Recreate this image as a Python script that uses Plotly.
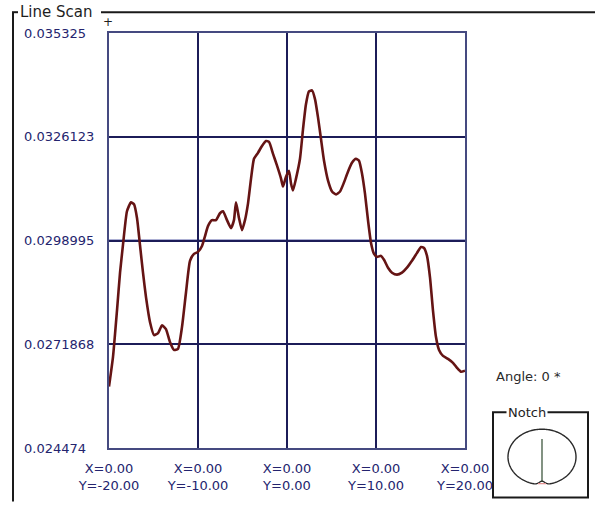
import numpy as np
import plotly.graph_objects as go

# Scan position along the line (Y coordinate, X fixed at 0.00)
scan_pos = [-20.00, -19.55, -19.10, -18.76, -18.43, -17.98, -17.53, -17.19, -16.85, -16.52,
            -16.18, -15.84, -15.39, -14.94, -14.49, -14.04, -13.60, -13.15, -12.70, -12.25,
            -11.80, -11.35, -10.90, -10.45, -10.00, -9.55, -9.21, -8.88, -8.43, -7.98,
            -7.53, -7.19, -6.74, -6.29, -5.96, -5.73, -5.39, -5.06, -4.72, -4.38,
            -4.04, -3.71, -3.26, -2.81, -2.36, -2.02, -1.57, -1.12, -0.67, -0.45,
            -0.11, 0.22, 0.45, 0.67, 1.01, 1.46, 1.80, 2.13, 2.47, 2.81,
            3.15, 3.48, 3.82, 4.16, 4.61, 5.06, 5.51, 5.96, 6.40, 6.85,
            7.30, 7.75, 8.09, 8.43, 8.76, 9.10, 9.44, 9.78, 10.11, 10.56,
            10.90, 11.35, 11.80, 12.36, 12.92, 13.48, 14.04, 14.61, 15.06, 15.39,
            15.73, 16.07, 16.40, 16.74, 17.08, 17.53, 18.09, 18.65, 19.10, 19.55, 20.00]

# Measured value at each scan position
scan_val = [0.026080, 0.026857, 0.028074, 0.029058, 0.029783, 0.030664, 0.030897, 0.030845, 0.030482, 0.029783,
            0.029058, 0.028411, 0.027763, 0.027426, 0.027478, 0.027685, 0.027582, 0.027245, 0.027038, 0.027064,
            0.027634, 0.028540, 0.029369, 0.029550, 0.029602, 0.029757, 0.030016, 0.030275, 0.030431, 0.030431,
            0.030612, 0.030664, 0.030431, 0.030223, 0.030431, 0.030897, 0.030482, 0.030172, 0.030431, 0.030871,
            0.031518, 0.032036, 0.032192, 0.032373, 0.032502, 0.032477, 0.032166, 0.031855, 0.031518, 0.031311,
            0.031570, 0.031725, 0.031389, 0.031207, 0.031518, 0.032036, 0.032813, 0.033461, 0.033797, 0.033823,
            0.033590, 0.033124, 0.032554, 0.031984, 0.031466, 0.031182, 0.031104, 0.031182, 0.031415, 0.031700,
            0.031933, 0.032036, 0.031984, 0.031648, 0.031130, 0.030431, 0.029835, 0.029550, 0.029472, 0.029498,
            0.029395, 0.029188, 0.029058, 0.029006, 0.029058, 0.029188, 0.029369, 0.029576, 0.029731, 0.029705,
            0.029498, 0.028929, 0.028074, 0.027374, 0.027038, 0.026883, 0.026805, 0.026701, 0.026572, 0.026468, 0.026494]

x_ticks = [-20.0, -10.0, 0.0, 10.0, 20.0]
x_tick_text = [f"X=0.00<br>Y={v:.2f}" for v in x_ticks]
y_ticks = [0.024474, 0.0271868, 0.0298995, 0.0326123, 0.035325]
y_tick_text = ["0.024474", "0.0271868", "0.0298995", "0.0326123", "0.035325"]
angle_text = "Angle: 0 *"

FIG_W, FIG_H = 595, 505
L, T, W, H = 109, 33, 356, 419  # plot area in pixels


def hx(px):
    return (px - L) / W


def vy(py):
    return (T + H - py) / H


FONT = "DejaVu Sans"
NAVY = "#24246e"
GRID = "#1c1c58"
GRID_MID = "#5a60a8"
FRAME = "#1a1a1a"

fig = go.Figure(go.Scatter(
    x=scan_pos, y=scan_val, mode="lines",
    line=dict(color="#651414", width=2.6, shape="spline", smoothing=0.5),
    hoverinfo="skip", showlegend=False,
))

fig.update_xaxes(
    range=[x_ticks[0], x_ticks[-1]], tickvals=x_ticks, ticktext=x_tick_text,
    ticks="", showgrid=True, gridcolor=GRID, gridwidth=1.5, zeroline=False,
    showline=True, mirror=True, linecolor="#454a80", linewidth=2,
    tickfont=dict(family=FONT, size=13, color=NAVY), ticklabelstandoff=7,
)
fig.update_yaxes(
    range=[y_ticks[0], y_ticks[-1]], tickvals=y_ticks, showticklabels=False,
    ticks="", showgrid=True, gridcolor=GRID, gridwidth=1.5, zeroline=False,
    showline=True, mirror=True, linecolor="#454a80", linewidth=2,
)

shapes = []
# centre grid lines in a lighter blue
shapes.append(dict(type="line", xref="x", yref="paper", x0=x_ticks[2], x1=x_ticks[2], y0=0, y1=1,
                   line=dict(color=GRID_MID, width=1.8), layer="between"))
shapes.append(dict(type="line", xref="paper", yref="y", x0=0, x1=1, y0=y_ticks[2], y1=y_ticks[2],
                   line=dict(color=GRID_MID, width=1.8), layer="between"))

# "Line Scan" group frame
shapes.append(dict(type="line", xref="paper", yref="paper", x0=hx(13), x1=hx(13), y0=vy(12), y1=vy(506),
                   line=dict(color=FRAME, width=2)))
shapes.append(dict(type="line", xref="paper", yref="paper", x0=hx(12), x1=hx(18), y0=vy(12), y1=vy(12),
                   line=dict(color=FRAME, width=2)))
shapes.append(dict(type="line", xref="paper", yref="paper", x0=hx(101), x1=hx(596), y0=vy(12), y1=vy(12),
                   line=dict(color=FRAME, width=2)))

# Notch box
shapes.append(dict(type="rect", xref="paper", yref="paper", x0=hx(493), x1=hx(588), y0=vy(416), y1=vy(502),
                   line=dict(color=FRAME, width=2), fillcolor="white", layer="above"))

# wafer outline with notch at the bottom
cx, cy, rx, ry = 542, 461, 34, 28
theta = np.linspace(0, 2 * np.pi, 181)
dent = 1 - 0.13 * np.exp(-((theta - np.pi / 2) / 0.12) ** 2)
ox = cx + rx * np.cos(theta) * dent
oy = cy + ry * np.sin(theta) * dent
path = "M " + " L ".join(f"{hx(a):.5f},{vy(b):.5f}" for a, b in zip(ox, oy)) + " Z"
shapes.append(dict(type="path", xref="paper", yref="paper", path=path,
                   line=dict(color="#2a2a2a", width=1.4), layer="above"))
shapes.append(dict(type="line", xref="paper", yref="paper", x0=hx(542), x1=hx(542), y0=vy(443), y1=vy(486),
                   line=dict(color="#2f4a2f", width=1.2), layer="above"))
shapes.append(dict(type="line", xref="paper", yref="paper", x0=hx(538), x1=hx(546), y0=vy(488), y1=vy(488),
                   line=dict(color="#e59090", width=1.2), layer="above"))

annotations = []
for v, t in zip(y_ticks, y_tick_text):
    annotations.append(dict(xref="paper", yref="y", x=hx(22), y=v, text=t, showarrow=False,
                            xanchor="left", yanchor="middle",
                            font=dict(family=FONT, size=13, color=NAVY)))
annotations.append(dict(xref="paper", yref="paper", x=hx(18), y=vy(12), text="Line Scan", showarrow=False,
                        xanchor="left", yanchor="middle", font=dict(family=FONT, size=15, color="#1e1e1e")))
annotations.append(dict(xref="paper", yref="paper", x=hx(108), y=vy(22), text="+", showarrow=False,
                        xanchor="center", yanchor="middle", font=dict(family=FONT, size=12, color="#1e1e1e")))
annotations.append(dict(xref="paper", yref="paper", x=hx(494), y=vy(380), text=angle_text, showarrow=False,
                        xanchor="left", yanchor="middle", font=dict(family=FONT, size=13, color="#2a2a2a")))
annotations.append(dict(xref="paper", yref="paper", x=hx(506), y=vy(416), text="Notch", showarrow=False,
                        xanchor="left", yanchor="middle", bgcolor="white", borderpad=1,
                        font=dict(family=FONT, size=13, color="#1e1e1e")))

fig.update_layout(
    width=FIG_W, height=FIG_H, autosize=False,
    margin=dict(l=L, r=FIG_W - L - W, t=T, b=FIG_H - T - H),
    paper_bgcolor="white", plot_bgcolor="white",
    shapes=shapes, annotations=annotations, showlegend=False,
)

fig.write_html("out.html")
